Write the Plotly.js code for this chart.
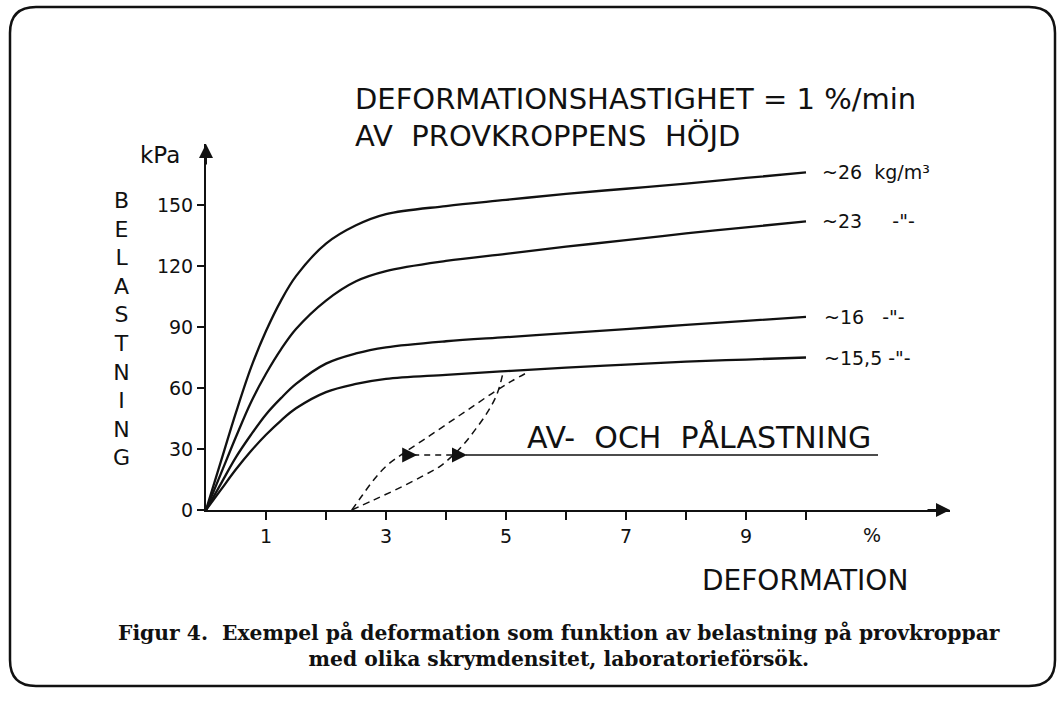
<!DOCTYPE html>
<html>
<head>
<meta charset="utf-8">
<script src="https://cdn.plot.ly/plotly-3.0.1.min.js"></script>
<style>
  html, body { margin: 0; padding: 0; background: #fff; }
  #chart { width: 1059px; height: 706px; }
</style>
</head>
<body>
<div id="chart"></div>
<script>
// ---- Data ----
const deformation = [0, 0.25, 0.5, 0.75, 1, 1.25, 1.5, 2, 2.5, 3, 4, 5, 6, 7, 8, 9, 10];
const load26  = [0, 24, 48, 70, 88, 103, 115, 131, 140, 145.5, 149.5, 152.5, 155.5, 158, 160.5, 163.3, 166];
const load23  = [0, 18, 36, 53, 67, 79, 89, 103, 112.5, 117.5, 122.5, 126, 129.5, 132.7, 136, 139, 142];
const load16  = [0, 13, 26, 37, 47, 55, 62, 72, 77, 80, 83, 85, 87, 89, 91, 93, 95];
const load155 = [0, 10, 20, 29, 37, 44, 50, 58, 62, 64.5, 66.5, 68.3, 70, 71.5, 73, 74, 75];

// unloading / reloading loop (dashed)
const loopAX = [2.43, 2.6, 2.8, 3.0, 3.27, 3.6, 4.0, 4.4, 4.8, 5.1, 5.38];
const loopAY = [0, 7, 15, 21.5, 27.5, 34, 42, 50, 58, 63.5, 68];
const loopBX = [2.43, 2.8, 3.2, 3.6, 3.9, 4.12, 4.3, 4.5, 4.7, 4.85, 4.95];
const loopBY = [0, 5, 10.5, 16.5, 21.5, 27, 32.5, 40, 48.5, 57, 67.5];

// leader line for "AV- OCH PÅLASTNING"
const leaderDashX = [3.27, 4.33];
const leaderSolidX = [4.33, 11.2];
const leaderY = 27;

const yTicks = [0, 30, 60, 90, 120, 150];
const xTicks = [1, 2, 3, 4, 5, 6, 7, 8, 9, 10];
const xTickText = ['1', '', '3', '', '5', '', '7', '', '9', ''];

const densityLabels = ['~26  kg/m\u00b3', '~23     -"-', '~16   -"-', '~15,5 -"-'];

// ---- Layout helpers (pixel -> paper) ----
const M = {l: 206, r: 109, t: 144, b: 196};
const W = 1059, H = 706;
const PW = W - M.l - M.r, PH = H - M.t - M.b;
const px = p => (p - M.l) / PW;
const py = p => (H - M.b - p) / PH;

const FONT = 'DejaVu Sans';
const INK = '#111';

const lineStyle = {color: INK, width: 2.3, shape: 'spline', smoothing: 1};
function curve(y) {
  return {x: deformation, y: y, mode: 'lines', line: lineStyle, hoverinfo: 'skip', showlegend: false};
}

const traces = [
  curve(load26), curve(load23), curve(load16), curve(load155),
  {x: loopAX, y: loopAY, mode: 'lines', line: {color: INK, width: 1.5, dash: '7px,5px', shape: 'spline'}, showlegend: false, hoverinfo: 'skip'},
  {x: loopBX, y: loopBY, mode: 'lines', line: {color: INK, width: 1.5, dash: '7px,5px', shape: 'spline'}, showlegend: false, hoverinfo: 'skip'},
  {x: leaderDashX, y: [leaderY, leaderY], mode: 'lines', line: {color: INK, width: 1.5, dash: '6px,5px'}, showlegend: false, hoverinfo: 'skip'},
  {x: leaderSolidX, y: [leaderY, leaderY], mode: 'lines', line: {color: INK, width: 1.5}, showlegend: false, hoverinfo: 'skip'}
];

function txt(text, xp, yp, size, opts) {
  return Object.assign({
    text: text, xref: 'paper', yref: 'paper', x: px(xp), y: py(yp),
    showarrow: false, font: {family: FONT, size: size, color: INK},
    xanchor: 'left', yanchor: 'middle'
  }, opts || {});
}

const lastY = [load26, load23, load16, load155].map(a => a[a.length - 1]);
const shifts = [14, 14, 16, 16];

const annotations = [
  txt('DEFORMATIONSHASTIGHET = 1 %/min', 353, 99, 29),
  txt('AV  PROVKROPPENS  HÖJD', 353, 136, 29),
  txt('kPa', 182, 155, 23, {xanchor: 'right'}),
  txt('B<br>E<br>L<br>A<br>S<br>T<br>N<br>I<br>N<br>G', 121, 329, 22, {xanchor: 'center', align: 'center'}),
  txt('AV-  OCH  PÅLASTNING', 525, 437, 30),
  txt('DEFORMATION', 700, 580, 28),
  txt('%', 872, 535, 19, {xanchor: 'center'}),
  // caption
  {text: '<b>Figur 4.  Exempel på deformation som funktion av belastning på provkroppar</b><br><b>med olika skrymdensitet, laboratorieförsök.</b>',
   xref: 'paper', yref: 'paper', x: px(559), y: py(646), xanchor: 'center', yanchor: 'middle', align: 'center',
   showarrow: false, font: {family: 'DejaVu Serif', size: 20.3, color: INK}},
  // axis arrowheads
  {x: 0, y: 180, xref: 'x', yref: 'y', ax: 0, ay: 22, showarrow: true, arrowhead: 2, arrowsize: 1.4, arrowwidth: 2, arrowcolor: INK, text: ''},
  {x: 12.4, y: 0, xref: 'x', yref: 'y', ax: -24, ay: 0, showarrow: true, arrowhead: 2, arrowsize: 1.4, arrowwidth: 2, arrowcolor: INK, text: ''},
  // leader arrows
  {x: 3.52, y: leaderY, xref: 'x', yref: 'y', ax: -14, ay: 0, showarrow: true, arrowhead: 2, arrowsize: 1.2, arrowwidth: 2.5, arrowcolor: INK, text: ''},
  {x: 4.35, y: leaderY, xref: 'x', yref: 'y', ax: -16, ay: 0, showarrow: true, arrowhead: 2, arrowsize: 1.2, arrowwidth: 2.5, arrowcolor: INK, text: ''}
];

densityLabels.forEach((lab, i) => {
  annotations.push({text: lab, x: deformation[deformation.length - 1], y: lastY[i], xref: 'x', yref: 'y',
    xanchor: 'left', yanchor: 'middle', xshift: shifts[i], showarrow: false,
    font: {family: FONT, size: 19, color: INK}});
});

// rounded frame
function framePath(L, T, R, B, r) {
  const xL = px(L), xR = px(R), yT = py(T), yB = py(B);
  const rx = r / PW, ry = r / PH;
  return `M ${xL + rx},${yT} L ${xR - rx},${yT} Q ${xR},${yT} ${xR},${yT - ry} ` +
         `L ${xR},${yB + ry} Q ${xR},${yB} ${xR - rx},${yB} L ${xL + rx},${yB} ` +
         `Q ${xL},${yB} ${xL},${yB + ry} L ${xL},${yT - ry} Q ${xL},${yT} ${xL + rx},${yT} Z`;
}

const layout = {
  width: W, height: H,
  margin: M,
  paper_bgcolor: '#fff', plot_bgcolor: '#fff',
  showlegend: false,
  xaxis: {
    range: [0, 12.4], showgrid: false, zeroline: false,
    showline: true, linecolor: INK, linewidth: 2,
    ticks: 'outside', ticklen: 8, tickwidth: 1.5, tickcolor: INK,
    tickvals: xTicks, ticktext: xTickText,
    tickfont: {family: FONT, size: 19, color: INK}
  },
  yaxis: {
    range: [0, 180], showgrid: false, zeroline: false,
    showline: true, linecolor: INK, linewidth: 2,
    ticks: 'outside', ticklen: 7, tickwidth: 1.5, tickcolor: INK,
    tickvals: yTicks,
    tickfont: {family: FONT, size: 19, color: INK}
  },
  annotations: annotations,
  shapes: [{type: 'path', xref: 'paper', yref: 'paper', path: framePath(10, 7, 1055, 686, 26),
            line: {color: INK, width: 2.5}}]
};

Plotly.newPlot('chart', traces, layout, {displayModeBar: false, staticPlot: true});
</script>
</body>
</html>
